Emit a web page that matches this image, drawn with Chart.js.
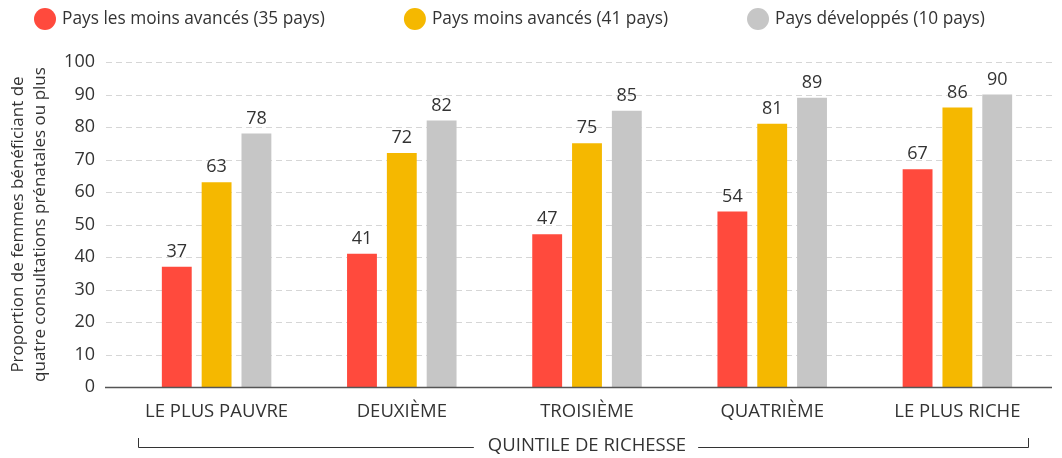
<!DOCTYPE html>
<html lang="fr">
<head>
<meta charset="utf-8">
<script src="https://cdn.jsdelivr.net/npm/chart.js@4"></script>
<style>
    html, body { margin: 0; padding: 0; background: #fff; }
    #wrap { width: 1062px; height: 458px; position: relative; }
</style>
</head>
<body>
<div id="wrap"><canvas id="quintileChart"></canvas></div>
<script>
// 数据
const categories = ['LE PLUS PAUVRE', 'DEUXIÈME', 'TROISIÈME', 'QUATRIÈME', 'LE PLUS RICHE'];
const seriesNames = ['Pays les moins avancés (35 pays)', 'Pays moins avancés (41 pays)', 'Pays développés (10 pays)'];
const pmaValues = [37, 41, 47, 54, 67];
const pmaLargeValues = [63, 72, 75, 81, 86];
const developedValues = [78, 82, 85, 89, 90];
const yTicks = [0, 10, 20, 30, 40, 50, 60, 70, 80, 90, 100];
const yTitle = ['Proportion de femmes bénéficiant de', 'quatre consultations prénatales ou plus'];
const xTitle = 'QUINTILE DE RICHESSE';

const seriesColors = ['#ff4a3d', '#f5b800', '#c6c6c6'];
const FONT = "'Open Sans', 'Noto Sans', sans-serif";
const TEXT = '#333333';

// 图例 (圆点 + 文字)
const circleLegend = {
    id: 'circleLegend',
    afterDraw(chart) {
        const { ctx } = chart;
        const r = 11;
        const cy = 19;
        let x = 34;
        ctx.save();
        ctx.font = '17.3px ' + FONT;
        ctx.textBaseline = 'middle';
        ctx.textAlign = 'left';
        chart.data.datasets.forEach(ds => {
            ctx.fillStyle = ds.backgroundColor;
            ctx.beginPath();
            ctx.arc(x + r, cy, r, 0, Math.PI * 2);
            ctx.fill();
            x += 2 * r + 6;
            ctx.fillStyle = TEXT;
            ctx.fillText(ds.label, x, cy);
            x += ctx.measureText(ds.label).width + 79;
        });
        ctx.restore();
    }
};

// 网格线 + 零轴 (向左延伸)
const gridPlugin = {
    id: 'gridPlugin',
    beforeDatasetsDraw(chart) {
        const { ctx, chartArea, scales } = chart;
        const y = scales.y;
        ctx.save();
        ctx.strokeStyle = '#d6d6d6';
        ctx.lineWidth = 1;
        ctx.setLineDash([6, 4]);
        yTicks.forEach(v => {
            if (v === 0) return;
            const py = Math.round(y.getPixelForValue(v)) + 0.5;
            ctx.beginPath();
            ctx.moveTo(chartArea.left - 18, py);
            ctx.lineTo(chartArea.right + 2, py);
            ctx.stroke();
        });
        ctx.restore();
    },
    afterDatasetsDraw(chart) {
        const { ctx, chartArea, scales } = chart;
        const py = Math.round(scales.y.getPixelForValue(0)) + 0.5;
        ctx.save();
        ctx.strokeStyle = '#555555';
        ctx.lineWidth = 1.5;
        ctx.beginPath();
        ctx.moveTo(chartArea.left - 19, py);
        ctx.lineTo(chartArea.right + 2, py);
        ctx.stroke();
        ctx.restore();
    }
};

// 柱顶数值
const valueLabels = {
    id: 'valueLabels',
    afterDatasetsDraw(chart) {
        const { ctx } = chart;
        ctx.save();
        ctx.font = '18px ' + FONT;
        ctx.fillStyle = TEXT;
        ctx.textAlign = 'center';
        ctx.textBaseline = 'alphabetic';
        chart.data.datasets.forEach((ds, i) => {
            chart.getDatasetMeta(i).data.forEach((bar, j) => {
                ctx.fillText(String(ds.data[j]), bar.x, bar.y - 10);
            });
        });
        ctx.restore();
    }
};

// 底部括号标题
const bracketTitle = {
    id: 'bracketTitle',
    afterDraw(chart) {
        const { ctx, chartArea } = chart;
        const cx = (chartArea.left + chartArea.right) / 2;
        const ly = 447.5;
        ctx.save();
        ctx.font = '18.5px ' + FONT;
        ctx.fillStyle = TEXT;
        ctx.textAlign = 'center';
        ctx.textBaseline = 'middle';
        ctx.fillText(xTitle, cx, 446);
        const half = ctx.measureText(xTitle).width / 2;
        const x0 = chartArea.left + 14;
        const x1 = chartArea.right - 22;
        ctx.strokeStyle = '#333333';
        ctx.lineWidth = 1;
        ctx.beginPath();
        ctx.moveTo(x0 + 0.5, 438);
        ctx.lineTo(x0 + 0.5, ly);
        ctx.lineTo(cx - half - 14, ly);
        ctx.moveTo(cx + half + 12, ly);
        ctx.lineTo(x1 + 0.5, ly);
        ctx.lineTo(x1 + 0.5, 438);
        ctx.stroke();
        ctx.restore();
    }
};

const allSeries = [pmaValues, pmaLargeValues, developedValues];

const chart = new Chart(document.getElementById('quintileChart'), {
    type: 'bar',
    data: {
        labels: categories,
        datasets: allSeries.map((vals, i) => ({
            label: seriesNames[i],
            data: vals,
            backgroundColor: seriesColors[i],
            borderWidth: 0,
            categoryPercentage: 0.645,
            barPercentage: 0.75
        }))
    },
    options: {
        responsive: true,
        maintainAspectRatio: false,
        animation: false,
        layout: { padding: { top: 62, right: 12, left: 0, bottom: 0 } },
        scales: {
            x: {
                grid: { display: false },
                border: { display: false },
                ticks: {
                    font: { family: FONT, size: 18.5 },
                    color: TEXT,
                    padding: 6,
                    maxRotation: 0
                },
                afterFit(scale) { scale.height = 71; }
            },
            y: {
                min: 0,
                max: 100,
                grid: { display: false, drawTicks: false },
                border: { display: false },
                afterBuildTicks(scale) { scale.ticks = yTicks.map(v => ({ value: v })); },
                ticks: {
                    font: { family: FONT, size: 18 },
                    color: TEXT,
                    padding: 29
                },
                title: {
                    display: true,
                    text: yTitle,
                    font: { family: FONT, size: 17, lineHeight: 1.294 },
                    color: TEXT,
                    padding: { top: 7, bottom: 0 }
                },
                afterFit(scale) { scale.width = 124; }
            }
        },
        plugins: {
            legend: { display: false },
            tooltip: { enabled: false }
        }
    },
    plugins: [gridPlugin, valueLabels, bracketTitle, circleLegend]
});
</script>
</body>
</html>
